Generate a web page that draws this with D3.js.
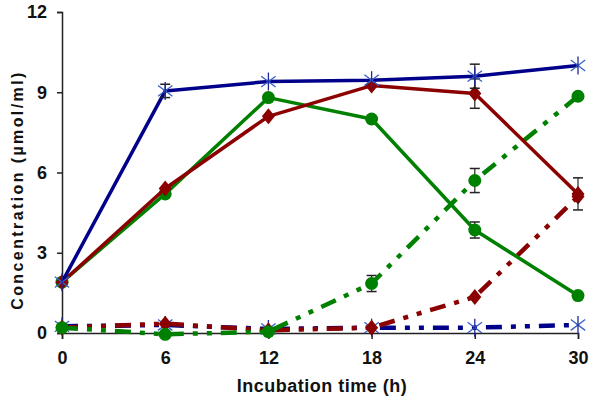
<!DOCTYPE html>
<html><head><meta charset="utf-8">
<script src="https://cdn.jsdelivr.net/npm/d3@7"></script>
<style>body{margin:0;background:#fff}svg{display:block}</style>
</head><body>
<svg id="c" width="600" height="407"></svg>
<script>
const times = [0, 6, 12, 18, 24, 30];
const xTicks = [0, 6, 12, 18, 24, 30];
const yTicks = [0, 3, 6, 9, 12];
const blueSolid = [1.9, 9.05, 9.4, 9.45, 9.6, 10.0];
const redSolid = [1.9, 5.4, 8.1, 9.25, 8.95, 5.2];
const greenSolid = [1.9, 5.2, 8.8, 8.0, 3.85, 1.4];
const greenDash = [0.2, -0.05, 0.05, 1.85, 5.7, 8.85];
const redDash = [0.2, 0.35, 0.1, 0.2, 1.35, 5.1];
const blueDash = [0.25, 0.3, 0.15, 0.2, 0.2, 0.3];
const blueSolidErr = [0, 0.25, 0.1, 0.1, 0.45, 0.05];
const redSolidErr = [0, 0.1, 0.1, 0.1, 0.55, 0.6];
const greenSolidErr = [0, 0.1, 0.1, 0.1, 0.3, 0.05];
const greenDashErr = [0, 0, 0, 0.3, 0.45, 0.1];
const redDashErr = [0, 0, 0, 0, 0, 0];
const blueDashErr = [0, 0, 0, 0, 0, 0];

const svg = d3.select('#c');
const x = d3.scaleLinear().domain([0, 30]).range([62, 578]);
const y = d3.scaleLinear().domain([0, 12]).range([333, 12]);

const BLUE = '#00008b', RED = '#8b0000', GREEN = '#008000';
const dashPat = '16,9,5,9,5,9';
const FONT = 'Arial, Liberation Sans, sans-serif';

const series = [
  {v: blueDash, e: blueDashErr, c: BLUE, dash: dashPat, m: 'star', w: 4.5},
  {v: redDash, e: redDashErr, c: RED, dash: dashPat, m: 'diamond', w: 4.5},
  {v: greenDash, e: greenDashErr, c: GREEN, dash: dashPat, m: 'circle', w: 4.5},
  {v: greenSolid, e: greenSolidErr, c: GREEN, dash: null, m: 'circle', w: 3.5},
  {v: redSolid, e: redSolidErr, c: RED, dash: null, m: 'diamond', w: 3.5},
  {v: blueSolid, e: blueSolidErr, c: BLUE, dash: null, m: 'star', w: 3.5},
];

const xAxis = svg.append('g').attr('transform', `translate(0,${y(0)})`)
  .call(d3.axisBottom(x).tickValues(xTicks).tickSize(6).tickPadding(12).tickFormat(d3.format('d')));
const yAxis = svg.append('g').attr('transform', `translate(${x(0)},0)`)
  .call(d3.axisLeft(y).tickValues(yTicks).tickSize(5).tickPadding(10).tickFormat(d3.format('d')));
[xAxis, yAxis].forEach(g => {
  g.select('.domain').attr('stroke', '#222').attr('stroke-width', 1.5);
  g.selectAll('.tick line').attr('stroke', '#222').attr('stroke-width', 1.5);
  g.selectAll('text').attr('font-family', FONT)
    .attr('font-weight', 'bold').attr('font-size', 18).attr('fill', '#111');
});
xAxis.selectAll('.tick line').attr('y1', 0);

const line = d3.line().x((d, i) => x(times[i])).y(d => y(d));

series.forEach(s => {
  const g = svg.append('g');
  g.append('path').datum(s.v).attr('d', line).attr('fill', 'none')
    .attr('stroke', s.c).attr('stroke-width', s.w)
    .attr('stroke-dasharray', s.dash).attr('stroke-linejoin', 'round');
  s.v.forEach((d, i) => {
    if (!s.e[i] || s.e[i] < 0.2) return;
    const cx = x(times[i]), y1 = y(d + s.e[i]), y2 = y(d - s.e[i]);
    g.append('line').attr('x1', cx).attr('x2', cx).attr('y1', y1).attr('y2', y2).attr('stroke', '#222').attr('stroke-width', 1.2);
    [y1, y2].forEach(yy => g.append('line').attr('x1', cx - 5).attr('x2', cx + 5).attr('y1', yy).attr('y2', yy).attr('stroke', '#222').attr('stroke-width', 1.5));
  });
  s.v.forEach((d, i) => {
    const cx = x(times[i]), cy = y(d);
    if (s.m === 'circle') {
      g.append('circle').attr('cx', cx).attr('cy', cy).attr('r', 6.5).attr('fill', s.c);
    } else if (s.m === 'diamond') {
      g.append('path').attr('d', `M${cx},${cy - 8}L${cx + 6.5},${cy}L${cx},${cy + 8}L${cx - 6.5},${cy}Z`).attr('fill', s.c);
    } else {
      const r = 9;
      [[0.8, 0.6], [-0.8, 0.6]].forEach(([a, b]) => {
        g.append('line').attr('x1', cx - a * r).attr('x2', cx + a * r)
          .attr('y1', cy - b * r).attr('y2', cy + b * r)
          .attr('stroke', '#3a5fc8').attr('stroke-width', 1.3);
      });
      g.append('line').attr('x1', cx).attr('x2', cx).attr('y1', cy - r).attr('y2', cy + r).attr('stroke', '#1a2a9a').attr('stroke-width', 1.3);
    }
  });
});

svg.append('text').attr('x', 322).attr('y', 392).attr('text-anchor', 'middle')
  .attr('font-family', FONT).attr('font-weight', 'bold').attr('font-size', 18)
  .attr('letter-spacing', 0.5).attr('fill', '#111').text('Incubation time (h)');
svg.append('text').attr('transform', 'translate(23,190) rotate(-90)').attr('text-anchor', 'middle')
  .attr('font-family', FONT).attr('font-weight', 'bold').attr('font-size', 16)
  .attr('letter-spacing', 2.4).attr('fill', '#111').text('Concentration (µmol/ml)');
</script>
</body></html>
